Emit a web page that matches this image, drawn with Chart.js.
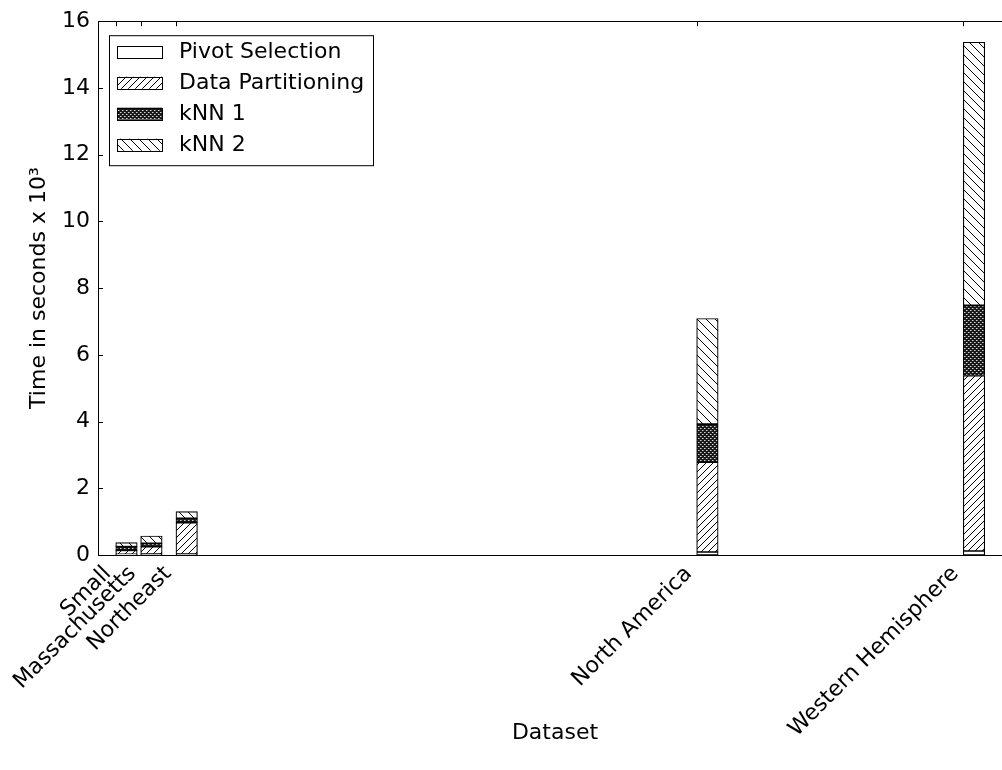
<!DOCTYPE html>
<html>
<head>
<meta charset="utf-8">
<title>Running time per dataset</title>
<script src="https://cdn.jsdelivr.net/npm/chart.js@4.4.1/dist/chart.umd.min.js"></script>
<style>
  html, body { margin: 0; padding: 0; background: #fff; overflow: hidden; }
  #wrap { width: 1014px; height: 770px; position: relative; }
</style>
</head>
<body>
<div id="wrap"><canvas id="chart" width="1014" height="770"></canvas></div>
<script>
// Datasets and where they sit along the x axis (axis units 0..100)
const datasetNames = ['Small', 'Massachusetts', 'Northeast', 'North America', 'Western Hemisphere'];
const datasetPositions = [1.94, 4.67, 8.53, 65.5, 94.67];

// Time in seconds x 10^3 for each phase
const pivotSelection   = [0.02, 0.03, 0.03, 0.09, 0.12];
const dataPartitioning = [0.12, 0.22, 0.94, 2.69, 5.26];
const knn1             = [0.11, 0.10, 0.13, 1.14, 2.10];
const knn2             = [0.12, 0.22, 0.20, 3.17, 7.89];

const yTickValues = [0, 2, 4, 6, 8, 10, 12, 14, 16];

const BAR_WIDTH = 2.35;      // bar width in x-axis units, bars start at their tick
const FONT = "'DejaVu Sans', sans-serif";
const FONT_SIZE = 22;

const canvas = document.getElementById('chart');
const ctx = canvas.getContext('2d');

function hatch(dir, s) {
  const c = document.createElement('canvas');
  c.width = s; c.height = s;
  const g = c.getContext('2d');
  g.fillStyle = '#fff';
  g.fillRect(0, 0, s, s);
  g.strokeStyle = '#000';
  g.lineWidth = 1;
  g.beginPath();
  if (dir === '/') {
    g.moveTo(0, s); g.lineTo(s, 0);
    g.moveTo(-1, 1); g.lineTo(1, -1);
    g.moveTo(s - 1, s + 1); g.lineTo(s + 1, s - 1);
  } else {
    g.moveTo(0, 0); g.lineTo(s, s);
    g.moveTo(-1, s - 1); g.lineTo(1, s + 1);
    g.moveTo(s - 1, -1); g.lineTo(s + 1, 1);
  }
  g.stroke();
  return ctx.createPattern(c, 'repeat');
}

function dots() {
  const c = document.createElement('canvas');
  c.width = 4; c.height = 4;
  const g = c.getContext('2d');
  g.fillStyle = '#1a1a1a';
  g.fillRect(0, 0, 4, 4);
  g.fillStyle = '#d8d8d8';
  g.fillRect(0, 0, 1, 1);
  g.fillRect(2, 2, 1, 1);
  g.fillStyle = '#777';
  g.fillRect(1, 0, 1, 1);
  g.fillRect(3, 2, 1, 1);
  return ctx.createPattern(c, 'repeat');
}

const fills = {
  pivot: '#ffffff',
  partition: hatch('/', 7),
  knn1: dots(),
  knn2: hatch('\\', 9)
};

function points(values) {
  return values.map((v, i) => ({ x: datasetPositions[i] + BAR_WIDTH / 2, y: v }));
}

function series(label, values, fill) {
  return {
    label,
    data: points(values),
    backgroundColor: fill,
    borderColor: '#000',
    borderWidth: 1.2,
    borderSkipped: false,
    barThickness: 21.5
  };
}

// Frame, inward ticks and the boxed legend drawn inside the plot
const framePlugin = {
  id: 'frame',
  beforeDatasetsDraw(chart) {
    const { ctx, chartArea: a, scales } = chart;
    ctx.save();
    ctx.strokeStyle = '#000';
    ctx.lineWidth = 1;
    ctx.beginPath();
    yTickValues.forEach(v => {
      const y = Math.round(scales.y.getPixelForValue(v)) + 0.5;
      ctx.moveTo(a.left, y); ctx.lineTo(a.left + 5, y);
      ctx.moveTo(a.right, y); ctx.lineTo(a.right - 5, y);
    });
    datasetPositions.forEach(p => {
      const x = Math.round(scales.x.getPixelForValue(p)) + 0.5;
      ctx.moveTo(x, a.top); ctx.lineTo(x, a.top + 5);
      ctx.moveTo(x, a.bottom); ctx.lineTo(x, a.bottom - 5);
    });
    ctx.stroke();
    ctx.restore();
  },
  afterDatasetsDraw(chart) {
    const { ctx, chartArea: a } = chart;
    ctx.save();
    ctx.strokeStyle = '#000';
    ctx.lineWidth = 1;
    ctx.strokeRect(Math.round(a.left) + 0.5, Math.round(a.top) + 0.5,
                   Math.round(a.right - a.left), Math.round(a.bottom - a.top));

    // legend box
    const lx = a.left + 11, ly = a.top + 14, lw = 264, lh = 130;
    ctx.fillStyle = '#fff';
    ctx.fillRect(lx, ly, lw, lh);
    ctx.strokeRect(lx + 0.5, ly + 0.5, lw, lh);
    ctx.font = FONT_SIZE + 'px ' + FONT;
    ctx.textBaseline = 'middle';
    ctx.textAlign = 'left';
    chart.data.datasets.forEach((ds, i) => {
      const cy = ly + 16.5 + i * 31;
      const sx = lx + 8, sw = 45, sh = 12;
      ctx.fillStyle = ds.backgroundColor;
      ctx.fillRect(sx, cy - sh / 2, sw, sh);
      ctx.strokeRect(sx + 0.5, Math.round(cy - sh / 2) + 0.5, sw, sh);
      ctx.fillStyle = '#000';
      ctx.fillText(ds.label, lx + 70, cy + 1);
    });
    ctx.restore();
  }
};

new Chart(canvas, {
  type: 'bar',
  data: {
    datasets: [
      series('Pivot Selection', pivotSelection, fills.pivot),
      series('Data Partitioning', dataPartitioning, fills.partition),
      series('kNN 1', knn1, fills.knn1),
      series('kNN 2', knn2, fills.knn2)
    ]
  },
  options: {
    responsive: false,
    animation: false,
    devicePixelRatio: 1,
    layout: { padding: { left: 22, top: 20, right: 2, bottom: 20 } },
    plugins: {
      legend: { display: false },
      tooltip: { enabled: false }
    },
    scales: {
      x: {
        type: 'linear',
        stacked: true,
        offset: false,
        min: 0,
        max: 100,
        grid: { display: false, drawTicks: false, offset: false },
        border: { display: false },
        afterBuildTicks(scale) {
          scale.ticks = datasetPositions.map(v => ({ value: v }));
        },
        afterFit(scale) { scale.height = 770 - 555 - 20; },
        ticks: {
          autoSkip: false,
          minRotation: 45,
          maxRotation: 45,
          padding: 6,
          labelOffset: -8,
          color: '#000',
          font: { family: FONT, size: FONT_SIZE },
          callback(value) {
            const i = datasetPositions.indexOf(value);
            return i >= 0 ? datasetNames[i] : '';
          }
        },
        title: {
          display: true,
          text: 'Dataset',
          color: '#000',
          font: { family: FONT, size: FONT_SIZE }
        }
      },
      y: {
        stacked: true,
        min: 0,
        max: 16,
        grid: { display: false, drawTicks: false },
        border: { display: false },
        afterBuildTicks(scale) {
          scale.ticks = yTickValues.map(v => ({ value: v }));
        },
        afterFit(scale) { scale.width = 98 - 22; },
        ticks: {
          padding: 8,
          color: '#000',
          font: { family: FONT, size: FONT_SIZE }
        },
        title: {
          display: true,
          text: 'Time in seconds x 10³',
          color: '#000',
          font: { family: FONT, size: FONT_SIZE }
        }
      }
    }
  },
  plugins: [framePlugin]
});
</script>
</body>
</html>
